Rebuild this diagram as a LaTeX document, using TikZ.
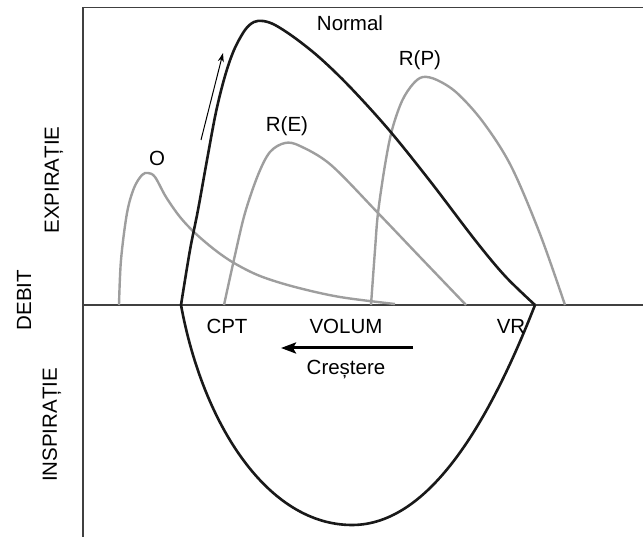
\documentclass[tikz,border=0pt]{standalone}
\usepackage{fontspec}
\setmainfont{Liberation Sans}
\usetikzlibrary{arrows.meta}
\begin{document}
\begin{tikzpicture}[x=1pt,y=-1pt,
  frame/.style={draw=black!75,line width=1.6pt},
  normalcurve/.style={draw=black!90,line width=2.6pt,line join=round},
  graycurve/.style={draw=black!38,line width=2.4pt,line join=round},
  lbl/.style={font=\fontsize{20.5}{24}\selectfont,inner sep=0pt},
  axislbl/.style={lbl,rotate=90}]
\useasboundingbox (0,0) rectangle (643,537);

% frame and volume axis
\draw[frame] (83,537) -- (83,7.5) -- (643,7.5);
\draw[frame] (83,305) -- (643,305);

% obstructive curve (O)
\draw[graycurve] plot[smooth,tension=0.55] coordinates {
  (119,305) (121,260) (127,213) (134,188) (142,175) (148,173) (155,177)
  (166,197) (180,217) (195,233) (215,250) (234,263) (260,276) (295,287)
  (340,297) (395,304)};

% restrictive, extraparenchymal (R(E))
\draw[graycurve] plot[smooth,tension=0.55] coordinates {
  (224,305) (235,255) (245,213) (258,175) (270,152) (285,143) (300,146)
  (331,165) (378,213) (420,257) (466,305)};

% restrictive, parenchymal (R(P))
\draw[graycurve] plot[smooth,tension=0.55] coordinates {
  (371,305) (375,250) (378,213) (385,165) (392,130) (402,101) (413,84)
  (423,77) (437,80) (457,93) (483,122) (511,166) (540,234) (565,305)};

% normal loop: expiration above the axis, inspiration below
\draw[normalcurve] plot[smooth,tension=0.55] coordinates {
  (181,305) (190,250) (198,210) (207,160) (216,112) (225,76) (234,50)
  (245,30) (254,22) (263,21) (275,25) (295,38) (320,58) (350,87)
  (389,130) (430,181) (475,240) (505,276) (535,305)};
\draw[normalcurve] (535,305) .. controls (490,420) and (430,525) .. (352,525)
  .. controls (268,525) and (203,425) .. (181,305);

% direction arrows
\coordinate (upTail) at (201,140);
\coordinate (upTip) at (223,53);
\draw[line width=1pt,-{Stealth[length=9pt,width=6pt]}] (upTail) -- (upTip);
\coordinate (incStart) at (413,348);
\coordinate (incEnd) at (281,348);
\draw[line width=3pt,-{Stealth[length=15pt,width=11pt,inset=3pt]}] (incStart) -- (incEnd);

% labels
\node[lbl] (lnormal) at (350,23) {Normal};
\node[lbl] (lo) at (157,158) {O};
\node[lbl] (lre) at (287,126) {R(E)};
\node[lbl] (lrp) at (420,60) {R(P)};
\node[lbl] (lcpt) at (227,326) {CPT};
\node[lbl] (lvol) at (346,326) {VOLUM};
\node[lbl] (lvr) at (511,326) {VR};
\node[lbl] (lcr) at (346,370) {Creștere};
\node[axislbl] (lexp) at (54,180) {EXPIRAȚIE};
\node[axislbl] (ldeb) at (24,300) {DEBIT};
\node[axislbl] (linsp) at (52,425) {INSPIRAȚIE};
\end{tikzpicture}
\end{document}
